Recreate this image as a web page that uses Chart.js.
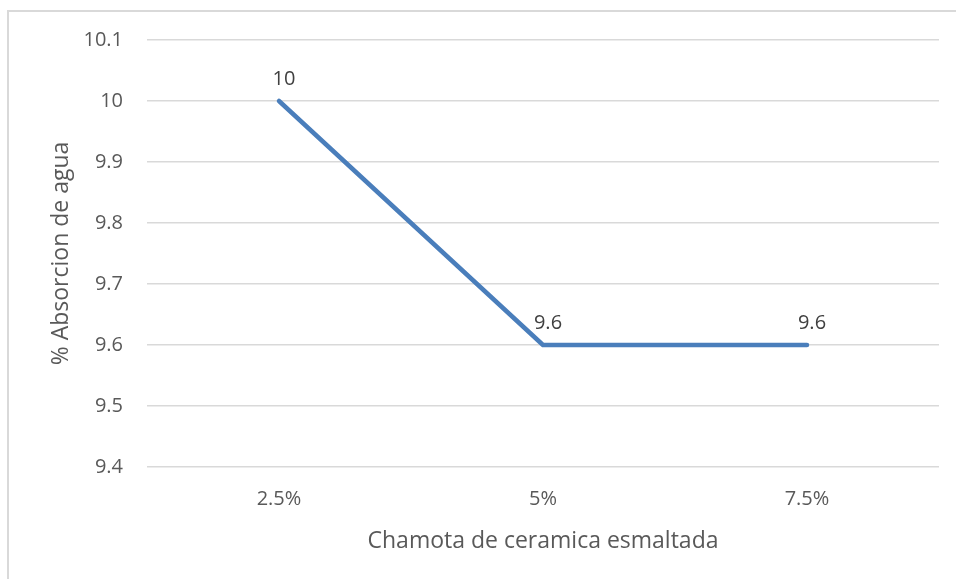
<!DOCTYPE html>
<html lang="es">
<head>
    <meta charset="UTF-8">
    <title>Absorcion de agua</title>
    <script src="https://cdn.jsdelivr.net/npm/chart.js"></script>
    <style>
        body { margin: 0; background: #fff; }
        .marco {
            position: absolute;
            left: 7px;
            top: 10px;
            width: 960px;
            height: 600px;
            border-left: 2px solid #d9d9d9;
            border-top: 2px solid #d9d9d9;
        }
        .zona { position: absolute; left: 0; top: 0; width: 956px; height: 579px; }
    </style>
</head>
<body>
    <div class="marco"></div>
    <div class="zona"><canvas id="grafico"></canvas></div>

    <script>
        // datos
        const categorias = ['2.5%', '5%', '7.5%'];
        const absorcion = [10, 9.6, 9.6];
        const ejeMin = 9.4;
        const ejeMax = 10.1;
        const paso = 0.1;

        const fuente = '"Open Sans", "Liberation Sans", sans-serif';
        const gris = '#595959';

        // etiquetas de valor encima de cada punto
        const etiquetas = {
            id: 'etiquetas',
            afterDatasetsDraw(chart) {
                const ctx = chart.ctx;
                const meta = chart.getDatasetMeta(0);
                ctx.save();
                ctx.font = '20px ' + fuente;
                ctx.fillStyle = '#404040';
                ctx.textAlign = 'center';
                ctx.textBaseline = 'middle';
                meta.data.forEach((pt, i) => {
                    ctx.fillText(String(absorcion[i]), pt.x + 5, pt.y - 22);
                });
                ctx.restore();
            }
        };

        new Chart(document.getElementById('grafico'), {
            type: 'line',
            data: {
                labels: categorias,
                datasets: [{
                    data: absorcion,
                    borderColor: '#4a7ebb',
                    borderWidth: 4.5,
                    borderCapStyle: 'round',
                    borderJoinStyle: 'round',
                    pointRadius: 0,
                    tension: 0
                }]
            },
            options: {
                responsive: true,
                maintainAspectRatio: false,
                animation: false,
                layout: { padding: { top: 40, right: 17, left: 0, bottom: 0 } },
                plugins: { legend: { display: false }, tooltip: { enabled: false } },
                scales: {
                    x: {
                        offset: true,
                        grid: { display: false },
                        border: { display: false },
                        ticks: { color: gris, font: { family: fuente, size: 20 }, padding: 12 },
                        title: {
                            display: true,
                            text: 'Chamota de ceramica esmaltada',
                            color: gris,
                            font: { family: fuente, size: 23 },
                            padding: { top: 0, bottom: 24 }
                        },
                        afterFit(scale) { scale.height = 112; }
                    },
                    y: {
                        min: ejeMin,
                        max: ejeMax,
                        grid: { color: '#d9d9d9', lineWidth: 1.5, drawTicks: false },
                        border: { display: false },
                        ticks: {
                            stepSize: paso,
                            color: gris,
                            font: { family: fuente, size: 20 },
                            padding: 24,
                            callback: v => Math.round(v * 10) / 10
                        },
                        title: {
                            display: true,
                            text: '% Absorcion de agua',
                            color: gris,
                            font: { family: fuente, size: 23 },
                            padding: { top: 48, bottom: 0 }
                        },
                        afterFit(scale) { scale.width = 147; }
                    }
                }
            },
            plugins: [etiquetas]
        });
    </script>
</body>
</html>
